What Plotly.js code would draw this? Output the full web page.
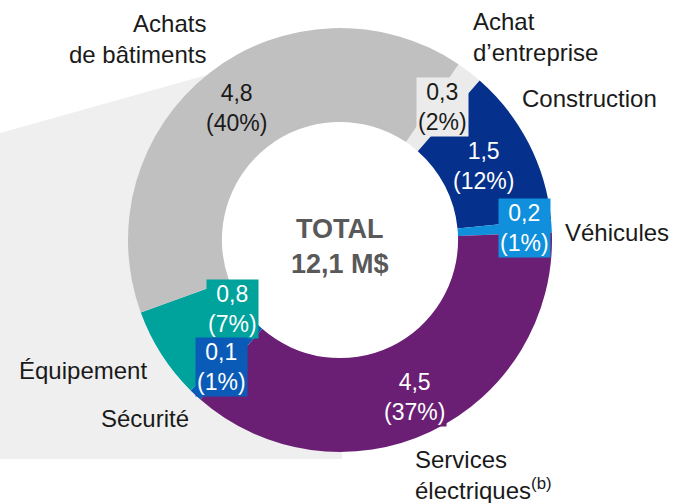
<!DOCTYPE html>
<html>
<head>
<meta charset="utf-8">
<script src="https://cdn.plot.ly/plotly-3.0.1.min.js"></script>
<style>
  html, body { margin: 0; padding: 0; background: #fff; }
  #chart { width: 680px; height: 503px; }
</style>
</head>
<body>
<div id="chart"></div>
<script>
// Data, clockwise starting from the top right
const categories = ["Achat<br>d’entreprise", "Construction", "Véhicules", "Services<br>électriques<sup>(b)</sup>", "Sécurité", "Équipement", "Achats<br>de bâtiments"];
const amounts = ["0,3", "1,5", "0,2", "4,5", "0,1", "0,8", "4,8"];
const shares = [2, 12, 1, 37, 1, 7, 40];
const totalLines = ["TOTAL", "12,1 M$"];

// Styling
const sliceColors = ["#ebebeb", "#05318c", "#0f8fdc", "#6b1f74", "#0a5bb8", "#00a29c", "#c0c0c0"];
const valueColors = ["#1a1a1a", "#ffffff", "#ffffff", "#ffffff", "#ffffff", "#ffffff", "#1a1a1a"];
const labelRadius = [0.79, 0.76, 0.87, 0.82, 0.82, 0.6, 0.79];
// [x, y, anchor] in pixels for the category names
const namePos = [[471, 37, "left"], [520, 99, "left"], [563, 232, "left"], [413, 475, "left"],
                 [191, 418, "right"], [149, 370, "right"], [208, 39, "right"]];

const W = 680, H = 503;
const cx = 340, cy = 240, R = 212;
const rotation = 34;
const font = "Liberation Sans, Arial, sans-serif";

const px = x => x / W;
const py = y => 1 - y / H;

const trace = {
    type: "pie",
    values: shares,
    labels: categories,
    marker: {colors: sliceColors, line: {width: 0}},
    hole: 0.557,
    sort: false,
    direction: "clockwise",
    rotation: rotation,
    textinfo: "none",
    hoverinfo: "skip",
    showlegend: false,
    domain: {x: [px(cx - R), px(cx + R)], y: [py(cy + R), py(cy - R)]}
};

// value labels sit on the middle angle of each slice
const total = shares.reduce((a, b) => a + b, 0);
let cum = 0;
const valueAnn = [];
shares.forEach((v, i) => {
    const mid = (rotation + 360 * (cum + v / 2) / total) * Math.PI / 180;
    cum += v;
    const r = labelRadius[i] * R;
    valueAnn.push({
        x: px(cx + r * Math.sin(mid)),
        y: py(cy - r * Math.cos(mid)),
        xref: "paper", yref: "paper",
        xanchor: "center", yanchor: "middle",
        text: amounts[i] + "<br>(" + shares[i] + "%)",
        showarrow: false,
        bgcolor: sliceColors[i],
        borderpad: 1,
        font: {family: font, size: 23, color: valueColors[i]}
    });
});
valueAnn.reverse(); // so the small Sécurité box sits over Équipement

const nameAnn = categories.map((c, i) => ({
    x: px(namePos[i][0]),
    y: py(namePos[i][1]),
    xref: "paper", yref: "paper",
    xanchor: namePos[i][2], yanchor: "middle",
    align: namePos[i][2],
    text: c,
    showarrow: false,
    font: {family: font, size: 24, color: "#1a1a1a"}
}));

const totalAnn = {
    x: px(cx), y: py(cy + 6),
    xref: "paper", yref: "paper",
    xanchor: "center", yanchor: "middle",
    text: "<b>" + totalLines.join("<br>") + "</b>",
    showarrow: false,
    font: {family: font, size: 27, color: "#595959"}
};

// light grey callout band coming from the left
const band = [[0, 133], [207, 75], [180, 240], [215, 390], [342, 440], [342, 459], [0, 459]];
const bandPath = "M" + band.map(p => px(p[0]) + "," + py(p[1])).join(" L") + " Z";

const layout = {
    width: W,
    height: H,
    margin: {l: 0, r: 0, t: 0, b: 0},
    paper_bgcolor: "#ffffff",
    showlegend: false,
    shapes: [{
        type: "path",
        xref: "paper", yref: "paper",
        path: bandPath,
        fillcolor: "#efefef",
        line: {width: 0},
        layer: "below"
    }],
    annotations: [...valueAnn, ...nameAnn, totalAnn]
};

Plotly.newPlot("chart", [trace], layout, {displayModeBar: false, staticPlot: true});
</script>
</body>
</html>
